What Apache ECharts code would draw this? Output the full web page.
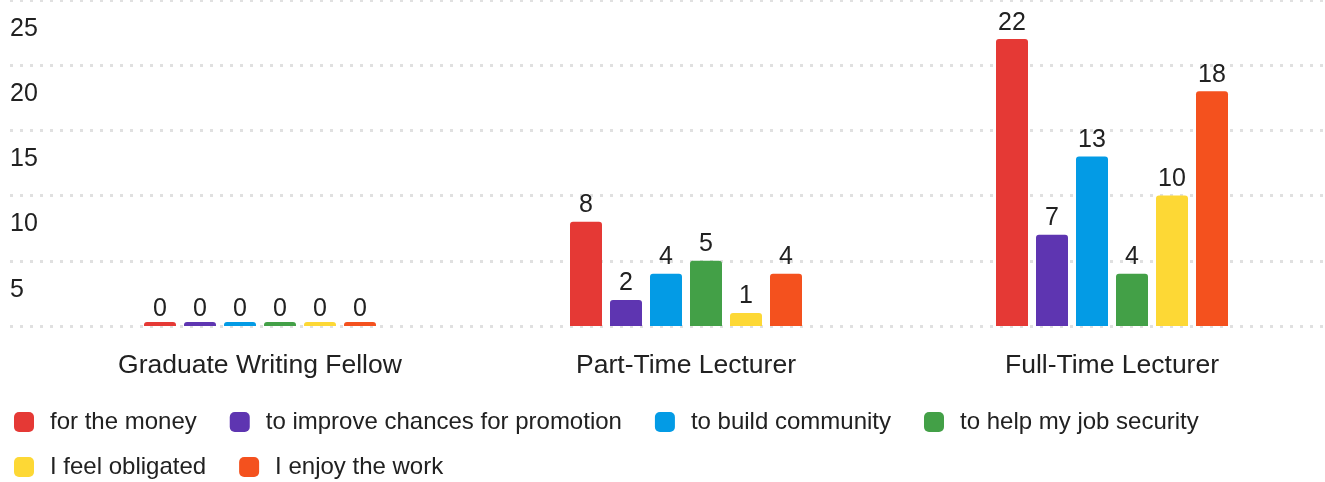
<!DOCTYPE html>
<html>
<head>
<meta charset="utf-8">
<style>
  html, body { margin: 0; padding: 0; background: #fff; }
  #chart { width: 1325px; height: 482px; }
</style>
<script src="https://cdn.jsdelivr.net/npm/echarts@6/dist/echarts.min.js"></script>
</head>
<body>
<div id="chart"></div>
<script>
var categories = ['Graduate Writing Fellow', 'Part-Time Lecturer', 'Full-Time Lecturer']
var seriesNames = ['for the money', 'to improve chances for promotion', 'to build community',
  'to help my job security', 'I feel obligated', 'I enjoy the work']
var forTheMoney = [0, 8, 22]
var improvePromotion = [0, 2, 7]
var buildCommunity = [0, 4, 13]
var jobSecurity = [0, 5, 4]
var feelObligated = [0, 1, 10]
var enjoyWork = [0, 4, 18]
var colors = ['#E53935', '#5E35B1', '#039BE5', '#43A047', '#FDD835', '#F4511E']

var values = [forTheMoney, improvePromotion, buildCommunity, jobSecurity, feelObligated, enjoyWork]
var fontFamily = '"Liberation Sans", Arial, sans-serif'
var textColor = '#212121'

var chart = echarts.init(document.getElementById('chart'))

var series = seriesNames.map(function(name, i) {
  return {
    name: name,
    type: 'bar',
    xAxisIndex: 1,
    yAxisIndex: 1,
    // zero values get a thin stub bar; keep their label at the zero line
    data: values[i].map(function(v) {
      return v === 0 ? { value: v, label: { offset: [0, 4] } } : v
    }),
    barWidth: 32,
    barGap: '25%',
    barMinHeight: 4,
    itemStyle: { color: colors[i], borderRadius: [3, 3, 0, 0] },
    label: {
      show: true,
      position: 'top',
      distance: 4,
      fontSize: 25,
      color: textColor,
      fontFamily: fontFamily
    },
    animation: false
  }
})

chart.setOption({
  color: colors,
  animation: false,
  grid: [
    // gridlines + y labels (wider than the bar area)
    { left: 10, right: 0, top: 0, bottom: 156 },
    // bars
    { left: 47, right: 0, top: 0, bottom: 156 }
  ],
  xAxis: [
    { gridIndex: 0, type: 'category', data: [], show: false },
    {
      gridIndex: 1,
      type: 'category',
      data: categories,
      axisLine: { show: false },
      axisTick: { show: false },
      axisLabel: {
        fontSize: 26.5,
        lineHeight: 26,
        margin: 27,
        color: textColor,
        fontFamily: fontFamily
      }
    }
  ],
  yAxis: [
    {
      gridIndex: 0,
      type: 'value',
      min: 0,
      max: 25,
      interval: 5,
      axisLine: { show: false },
      axisTick: { show: false },
      splitLine: {
        show: true,
        lineStyle: { color: '#e0e0e0', width: 3, type: [3, 7] }
      },
      axisLabel: {
        inside: true,
        margin: 0,
        align: 'left',
        verticalAlign: 'top',
        padding: [16, 0, 0, 0],
        fontSize: 25,
        lineHeight: 26,
        showMinLabel: false,
        color: textColor,
        fontFamily: fontFamily
      }
    },
    {
      gridIndex: 1,
      type: 'value',
      min: 0,
      max: 25,
      interval: 5,
      show: false,
      splitLine: { show: false }
    }
  ],
  legend: {
    left: 14,
    top: 410,
    width: 1300,
    padding: 0,
    icon: 'roundRect',
    itemWidth: 20,
    itemHeight: 20,
    itemGap: 21,
    data: seriesNames,
    textStyle: {
      fontSize: 24,
      lineHeight: 24,
      padding: [0, 12, 0, 11],
      color: textColor,
      fontFamily: fontFamily
    }
  },
  series: series
})
</script>
</body>
</html>
